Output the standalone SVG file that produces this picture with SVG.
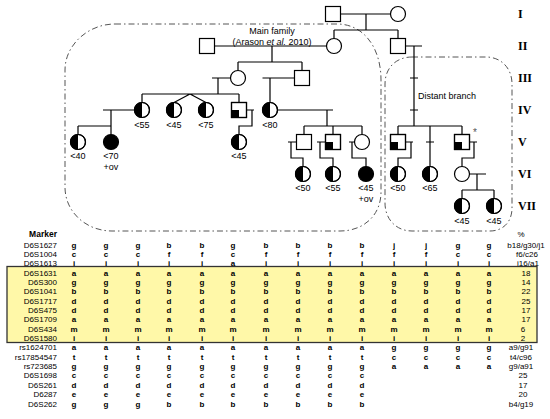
<svg xmlns="http://www.w3.org/2000/svg" width="550" height="419" viewBox="0 0 550 419">
<style>
.ln{stroke:#000;stroke-width:1.2;fill:none}
.sym{stroke:#000;stroke-width:1.2;fill:#fff}
.blk{fill:#000;stroke:none}
.bnd{fill:none;stroke:#555;stroke-width:1;stroke-dasharray:6 3 1.5 3}
.lbl{font-family:"Liberation Sans",Arial,sans-serif;font-size:9px;text-anchor:middle;fill:#000}
.gen{font-family:"Liberation Serif","Times New Roman",serif;font-weight:bold;font-size:12px;fill:#000}
.mk{font-family:"Liberation Sans",Arial,sans-serif;font-size:8px;text-anchor:end;fill:#000}
.d{font-family:"Liberation Sans",Arial,sans-serif;font-size:8px;font-weight:bold;text-anchor:middle;fill:#000}
.pc{font-family:"Liberation Sans",Arial,sans-serif;font-size:8px;text-anchor:middle;fill:#000}
</style>
<rect width="550" height="419" fill="#fff"/>
<!-- boundaries -->
<g id="boundaries">
<path class="bnd" d="M115,24 H337 C364,24 381,48 381,80 V192 C381,215 364,231 340,231 H112 C86,231 65,212 65,187 V70 C65,45 88,24 115,24 Z"/>
<path class="bnd" d="M412,57 H486 C501,57 512,68 512,84 V208 C512,222 503,231 490,231 H412 C396,231 385,219 385,203 V84 C385,68 396,57 412,57 Z"/>
<text class="lbl" x="272" y="34">Main family</text>
<text class="lbl" x="272" y="45">(Arason <tspan font-style="italic">et al.</tspan> 2010)</text>
<text class="lbl" x="418" y="99" style="text-anchor:start">Distant branch</text>
</g>
<!-- connectors -->
<g id="connectors" class="ln">
<path d="M340.5,14 H390.5 M366,14 V30 M334,30 H398 M334,30 V38.5 M398,30 V38.5"/>
<path d="M214.5,46 H326.5 M272,46 V62 M238,62 H302 M238,62 V70.5 M302,62 V70.5"/>
<path d="M405.5,46 H422 M414,46 V126 M410,78 H418 M410,110 H418 M398,126 H462 M398,126 V134.5 M430,126 V166.5 M426,142 H434 M462,126 V134.5"/>
<path d="M212,78 H230.5 M218,78 V94 M142,94 H239 M142,94 V102.5 M190,94 L174,102.5 M190,94 L206,102.5 M239,94 V102.5"/>
<path d="M262.5,78 H294.5 M270,78 V102.5"/>
<path d="M103,110 H134.5 M111,110 V134.5 M78,126 H111 M78,126 V134.5"/>
<path d="M246.5,110 H254 M252,110 V126 H239 V134.5"/>
<path d="M277.5,110 H333 M327,110 V126 M304,126 H362 M304,126 V134.5 M333,126 V134.5 M362,126 V134.5"/>
<path d="M288,142 H296.5 M291,142 V158 H303 V166.5 M317,142 H325.5 M320,142 V158 H333 V166.5 M349,142 H354.5 M352,142 V158 H366 V166.5"/>
<path d="M405.5,142 H413 M411,142 V158 H398 V166.5 M469.5,142 H477 M474,142 V158 H462 V166.5"/>
<path d="M469.5,174 H486 M477,174 V190 M462,190 H494 M462,190 V198.5 M494,190 V198.5"/>
</g>
<!-- Generation I -->
<g id="I-1"><rect class="sym" x="325.5" y="6.5" width="15" height="15"/></g>
<g id="I-2"><circle class="sym" cx="398" cy="14" r="7.5"/></g>
<!-- Generation II -->
<g id="II-1"><rect class="sym" x="199.5" y="38.5" width="15" height="15"/></g>
<g id="II-2"><circle class="sym" cx="334" cy="46" r="7.5"/></g>
<g id="II-3"><rect class="sym" x="390.5" y="38.5" width="15" height="15"/></g>
<!-- Generation III -->
<g id="III-1"><circle class="sym" cx="238" cy="78" r="7.5"/></g>
<g id="III-2"><rect class="sym" x="294.5" y="70.5" width="15" height="15"/></g>
<!-- Generation IV -->
<g id="IV-1"><circle class="sym" cx="142" cy="110" r="7.5"/><path class="blk" d="M142,102.5 A7.5,7.5 0 0 0 142,117.5 Z"/><circle class="ln" cx="142" cy="110" r="7.5"/><text class="lbl" x="142" y="128">&lt;55</text></g>
<g id="IV-2"><circle class="sym" cx="174" cy="110" r="7.5"/><path class="blk" d="M174,102.5 A7.5,7.5 0 0 0 174,117.5 Z"/><circle class="ln" cx="174" cy="110" r="7.5"/><text class="lbl" x="174" y="128">&lt;45</text></g>
<g id="IV-3"><circle class="sym" cx="206" cy="110" r="7.5"/><path class="blk" d="M206,102.5 A7.5,7.5 0 0 0 206,117.5 Z"/><circle class="ln" cx="206" cy="110" r="7.5"/><text class="lbl" x="206" y="128">&lt;75</text></g>
<g id="IV-4"><rect class="sym" x="231.5" y="102.5" width="15" height="15"/><rect class="blk" x="231.5" y="110" width="7.5" height="7.5"/><rect class="ln" x="231.5" y="102.5" width="15" height="15"/></g>
<g id="IV-5"><circle class="sym" cx="270" cy="110" r="7.5"/><path class="blk" d="M270,102.5 A7.5,7.5 0 0 0 270,117.5 Z"/><circle class="ln" cx="270" cy="110" r="7.5"/><text class="lbl" x="270" y="128">&lt;80</text></g>
<!-- Generation V -->
<g id="V-1"><circle class="sym" cx="78" cy="142" r="7.5"/><path class="blk" d="M78,134.5 A7.5,7.5 0 0 0 78,149.5 Z"/><circle class="ln" cx="78" cy="142" r="7.5"/><text class="lbl" x="78" y="159">&lt;40</text></g>
<g id="V-2"><circle class="sym" cx="111" cy="142" r="7.5" style="fill:#000"/><text class="lbl" x="111" y="159">&lt;70</text><text class="lbl" x="111" y="169.5">+ov</text></g>
<g id="V-3"><circle class="sym" cx="239" cy="142" r="7.5"/><path class="blk" d="M239,134.5 A7.5,7.5 0 0 0 239,149.5 Z"/><circle class="ln" cx="239" cy="142" r="7.5"/><text class="lbl" x="239" y="159">&lt;45</text></g>
<g id="V-4"><rect class="sym" x="296.5" y="134.5" width="15" height="15"/></g>
<g id="V-5"><rect class="sym" x="325.5" y="134.5" width="15" height="15"/><rect class="blk" x="325.5" y="142" width="7.5" height="7.5"/><rect class="ln" x="325.5" y="134.5" width="15" height="15"/></g>
<g id="V-6"><circle class="sym" cx="362" cy="142" r="7.5"/></g>
<g id="V-7"><rect class="sym" x="390.5" y="134.5" width="15" height="15"/><rect class="blk" x="390.5" y="142" width="7.5" height="7.5"/><rect class="ln" x="390.5" y="134.5" width="15" height="15"/></g>
<g id="V-8"><rect class="sym" x="454.5" y="134.5" width="15" height="15"/><rect class="blk" x="454.5" y="142" width="7.5" height="7.5"/><rect class="ln" x="454.5" y="134.5" width="15" height="15"/><text x="473" y="136" style="font-family:'Liberation Sans',Arial,sans-serif;font-size:10px;fill:#555">*</text></g>
<!-- Generation VI -->
<g id="VI-1"><circle class="sym" cx="303" cy="174" r="7.5"/><path class="blk" d="M303,166.5 A7.5,7.5 0 0 0 303,181.5 Z"/><circle class="ln" cx="303" cy="174" r="7.5"/><text class="lbl" x="303" y="191">&lt;50</text></g>
<g id="VI-2"><circle class="sym" cx="333" cy="174" r="7.5"/><path class="blk" d="M333,166.5 A7.5,7.5 0 0 0 333,181.5 Z"/><circle class="ln" cx="333" cy="174" r="7.5"/><text class="lbl" x="333" y="191">&lt;55</text></g>
<g id="VI-3"><circle class="sym" cx="366" cy="174" r="7.5" style="fill:#000"/><text class="lbl" x="366" y="191">&lt;45</text><text class="lbl" x="366" y="201.5">+ov</text></g>
<g id="VI-4"><circle class="sym" cx="398" cy="174" r="7.5"/><path class="blk" d="M398,166.5 A7.5,7.5 0 0 0 398,181.5 Z"/><circle class="ln" cx="398" cy="174" r="7.5"/><text class="lbl" x="398" y="191">&lt;50</text></g>
<g id="VI-5"><circle class="sym" cx="430" cy="174" r="7.5"/><path class="blk" d="M430,166.5 A7.5,7.5 0 0 0 430,181.5 Z"/><circle class="ln" cx="430" cy="174" r="7.5"/><text class="lbl" x="430" y="191">&lt;65</text></g>
<g id="VI-6"><circle class="sym" cx="462" cy="174" r="7.5"/></g>
<!-- Generation VII -->
<g id="VII-1"><circle class="sym" cx="462" cy="206" r="7.5"/><path class="blk" d="M462,198.5 A7.5,7.5 0 0 0 462,213.5 Z"/><circle class="ln" cx="462" cy="206" r="7.5"/><text class="lbl" x="462" y="224">&lt;45</text></g>
<g id="VII-2"><circle class="sym" cx="494" cy="206" r="7.5"/><path class="blk" d="M494,198.5 A7.5,7.5 0 0 0 494,213.5 Z"/><circle class="ln" cx="494" cy="206" r="7.5"/><text class="lbl" x="494" y="224">&lt;45</text></g>
<!-- generation numerals -->
<g id="generations">
<text class="gen" x="518" y="18">I</text>
<text class="gen" x="518" y="50">II</text>
<text class="gen" x="518" y="82">III</text>
<text class="gen" x="518" y="114">IV</text>
<text class="gen" x="518" y="146">V</text>
<text class="gen" x="518" y="178">VI</text>
<text class="gen" x="518" y="210">VII</text>
</g>
<!-- table -->
<g id="table">
<rect x="7" y="266.5" width="530" height="76" fill="#FFF8A8" stroke="#333" stroke-width="1.3"/>
<text class="mk" x="57" y="237" font-weight="bold" style="font-size:8.5px">Marker</text>
<text class="pc" x="521" y="237">%</text>
<g id="labels">
<text class="mk" x="57" y="247.5">D6S1627</text>
<text class="mk" x="57" y="256.9">D6S1004</text>
<text class="mk" x="57" y="266.2">D6S1613</text>
<text class="mk" x="57" y="275.6">D6S1631</text>
<text class="mk" x="57" y="284.9">D6S300</text>
<text class="mk" x="57" y="294.3">D6S1041</text>
<text class="mk" x="57" y="303.6">D6S1717</text>
<text class="mk" x="57" y="313">D6S475</text>
<text class="mk" x="57" y="322.3">D6S1709</text>
<text class="mk" x="57" y="331.7">D6S434</text>
<text class="mk" x="57" y="341">D6S1580</text>
<text class="mk" x="57" y="350.4">rs1624701</text>
<text class="mk" x="57" y="359.7">rs17854547</text>
<text class="mk" x="57" y="369.1">rs723685</text>
<text class="mk" x="57" y="378.4">D6S1698</text>
<text class="mk" x="57" y="387.8">D6S261</text>
<text class="mk" x="57" y="397.1">D6287</text>
<text class="mk" x="57" y="406.5">D6S262</text>
</g>
<g id="percent">
<text class="pc" x="526" y="247.5">b18/g30/j1</text>
<text class="pc" x="527" y="256.9">f6/c26</text>
<text class="pc" x="528" y="266.2">i16/a1</text>
<text class="pc" x="526" y="275.6">18</text>
<text class="pc" x="526" y="284.9">14</text>
<text class="pc" x="526" y="294.3">22</text>
<text class="pc" x="526" y="303.6">25</text>
<text class="pc" x="526" y="313">17</text>
<text class="pc" x="526" y="322.3">17</text>
<text class="pc" x="523" y="331.7">6</text>
<text class="pc" x="523" y="341">2</text>
<text class="pc" x="521" y="350.4">a9/g91</text>
<text class="pc" x="521" y="359.7">t4/c96</text>
<text class="pc" x="521" y="369.1">g9/a91</text>
<text class="pc" x="523" y="378.4">25</text>
<text class="pc" x="523" y="387.8">17</text>
<text class="pc" x="523" y="397.1">20</text>
<text class="pc" x="521" y="406.5">b4/g19</text>
</g>
<g id="alleles" class="d">
<text class="d" x="74" y="247.5">g</text><text class="d" x="106" y="247.5">g</text><text class="d" x="138" y="247.5">g</text><text class="d" x="169" y="247.5">b</text><text class="d" x="202" y="247.5">b</text><text class="d" x="233" y="247.5">g</text><text class="d" x="266" y="247.5">b</text><text class="d" x="298" y="247.5">b</text><text class="d" x="330" y="247.5">b</text><text class="d" x="362" y="247.5">b</text><text class="d" x="394" y="247.5">j</text><text class="d" x="426" y="247.5">j</text><text class="d" x="458" y="247.5">g</text><text class="d" x="489" y="247.5">g</text>
<text class="d" x="74" y="256.9">c</text><text class="d" x="106" y="256.9">c</text><text class="d" x="138" y="256.9">c</text><text class="d" x="169" y="256.9">f</text><text class="d" x="202" y="256.9">f</text><text class="d" x="233" y="256.9">c</text><text class="d" x="266" y="256.9">f</text><text class="d" x="298" y="256.9">f</text><text class="d" x="330" y="256.9">f</text><text class="d" x="362" y="256.9">f</text><text class="d" x="394" y="256.9">f</text><text class="d" x="426" y="256.9">f</text><text class="d" x="458" y="256.9">c</text><text class="d" x="489" y="256.9">c</text>
<text class="d" x="74" y="266.2">i</text><text class="d" x="106" y="266.2">i</text><text class="d" x="138" y="266.2">i</text><text class="d" x="169" y="266.2">i</text><text class="d" x="202" y="266.2">i</text><text class="d" x="233" y="266.2">a</text><text class="d" x="266" y="266.2">i</text><text class="d" x="298" y="266.2">i</text><text class="d" x="330" y="266.2">i</text><text class="d" x="362" y="266.2">i</text><text class="d" x="394" y="266.2">i</text><text class="d" x="426" y="266.2">i</text><text class="d" x="458" y="266.2">i</text><text class="d" x="489" y="266.2">i</text>
<text class="d" x="74" y="275.6">a</text><text class="d" x="106" y="275.6">a</text><text class="d" x="138" y="275.6">a</text><text class="d" x="169" y="275.6">a</text><text class="d" x="202" y="275.6">a</text><text class="d" x="233" y="275.6">a</text><text class="d" x="266" y="275.6">a</text><text class="d" x="298" y="275.6">a</text><text class="d" x="330" y="275.6">a</text><text class="d" x="362" y="275.6">a</text><text class="d" x="394" y="275.6">a</text><text class="d" x="426" y="275.6">a</text><text class="d" x="458" y="275.6">a</text><text class="d" x="489" y="275.6">a</text>
<text class="d" x="74" y="284.9">g</text><text class="d" x="106" y="284.9">g</text><text class="d" x="138" y="284.9">g</text><text class="d" x="169" y="284.9">g</text><text class="d" x="202" y="284.9">g</text><text class="d" x="233" y="284.9">g</text><text class="d" x="266" y="284.9">g</text><text class="d" x="298" y="284.9">g</text><text class="d" x="330" y="284.9">g</text><text class="d" x="362" y="284.9">g</text><text class="d" x="394" y="284.9">g</text><text class="d" x="426" y="284.9">g</text><text class="d" x="458" y="284.9">g</text><text class="d" x="489" y="284.9">g</text>
<text class="d" x="74" y="294.3">b</text><text class="d" x="106" y="294.3">b</text><text class="d" x="138" y="294.3">b</text><text class="d" x="169" y="294.3">b</text><text class="d" x="202" y="294.3">b</text><text class="d" x="233" y="294.3">b</text><text class="d" x="266" y="294.3">b</text><text class="d" x="298" y="294.3">b</text><text class="d" x="330" y="294.3">b</text><text class="d" x="362" y="294.3">b</text><text class="d" x="394" y="294.3">b</text><text class="d" x="426" y="294.3">b</text><text class="d" x="458" y="294.3">b</text><text class="d" x="489" y="294.3">b</text>
<text class="d" x="74" y="303.6">d</text><text class="d" x="106" y="303.6">d</text><text class="d" x="138" y="303.6">d</text><text class="d" x="169" y="303.6">d</text><text class="d" x="202" y="303.6">d</text><text class="d" x="233" y="303.6">d</text><text class="d" x="266" y="303.6">d</text><text class="d" x="298" y="303.6">d</text><text class="d" x="330" y="303.6">d</text><text class="d" x="362" y="303.6">d</text><text class="d" x="394" y="303.6">d</text><text class="d" x="426" y="303.6">d</text><text class="d" x="458" y="303.6">d</text><text class="d" x="489" y="303.6">d</text>
<text class="d" x="74" y="313">d</text><text class="d" x="106" y="313">d</text><text class="d" x="138" y="313">d</text><text class="d" x="169" y="313">d</text><text class="d" x="202" y="313">d</text><text class="d" x="233" y="313">d</text><text class="d" x="266" y="313">d</text><text class="d" x="298" y="313">d</text><text class="d" x="330" y="313">d</text><text class="d" x="362" y="313">d</text><text class="d" x="394" y="313">d</text><text class="d" x="426" y="313">d</text><text class="d" x="458" y="313">d</text><text class="d" x="489" y="313">d</text>
<text class="d" x="74" y="322.3">a</text><text class="d" x="106" y="322.3">a</text><text class="d" x="138" y="322.3">a</text><text class="d" x="169" y="322.3">a</text><text class="d" x="202" y="322.3">a</text><text class="d" x="233" y="322.3">a</text><text class="d" x="266" y="322.3">a</text><text class="d" x="298" y="322.3">a</text><text class="d" x="330" y="322.3">a</text><text class="d" x="362" y="322.3">a</text><text class="d" x="394" y="322.3">a</text><text class="d" x="426" y="322.3">a</text><text class="d" x="458" y="322.3">a</text><text class="d" x="489" y="322.3">a</text>
<text class="d" x="74" y="331.7">m</text><text class="d" x="106" y="331.7">m</text><text class="d" x="138" y="331.7">m</text><text class="d" x="169" y="331.7">m</text><text class="d" x="202" y="331.7">m</text><text class="d" x="233" y="331.7">m</text><text class="d" x="266" y="331.7">m</text><text class="d" x="298" y="331.7">m</text><text class="d" x="330" y="331.7">m</text><text class="d" x="362" y="331.7">m</text><text class="d" x="394" y="331.7">m</text><text class="d" x="426" y="331.7">m</text><text class="d" x="458" y="331.7">m</text><text class="d" x="489" y="331.7">m</text>
<text class="d" x="74" y="341">i</text><text class="d" x="106" y="341">i</text><text class="d" x="138" y="341">i</text><text class="d" x="169" y="341">i</text><text class="d" x="202" y="341">i</text><text class="d" x="233" y="341">i</text><text class="d" x="266" y="341">i</text><text class="d" x="298" y="341">i</text><text class="d" x="330" y="341">i</text><text class="d" x="362" y="341">i</text><text class="d" x="394" y="341">i</text><text class="d" x="426" y="341">i</text><text class="d" x="458" y="341">i</text><text class="d" x="489" y="341">i</text>
<text class="d" x="74" y="350.4">a</text><text class="d" x="106" y="350.4">a</text><text class="d" x="138" y="350.4">a</text><text class="d" x="169" y="350.4">a</text><text class="d" x="202" y="350.4">a</text><text class="d" x="233" y="350.4">a</text><text class="d" x="266" y="350.4">a</text><text class="d" x="298" y="350.4">a</text><text class="d" x="330" y="350.4">a</text><text class="d" x="362" y="350.4">a</text><text class="d" x="394" y="350.4">g</text><text class="d" x="426" y="350.4">g</text><text class="d" x="458" y="350.4">g</text><text class="d" x="489" y="350.4">g</text>
<text class="d" x="74" y="359.7">t</text><text class="d" x="106" y="359.7">t</text><text class="d" x="138" y="359.7">t</text><text class="d" x="169" y="359.7">t</text><text class="d" x="202" y="359.7">t</text><text class="d" x="233" y="359.7">t</text><text class="d" x="266" y="359.7">t</text><text class="d" x="298" y="359.7">t</text><text class="d" x="330" y="359.7">t</text><text class="d" x="362" y="359.7">t</text><text class="d" x="394" y="359.7">c</text><text class="d" x="426" y="359.7">c</text><text class="d" x="458" y="359.7">c</text><text class="d" x="489" y="359.7">c</text>
<text class="d" x="74" y="369.1">g</text><text class="d" x="106" y="369.1">g</text><text class="d" x="138" y="369.1">g</text><text class="d" x="169" y="369.1">g</text><text class="d" x="202" y="369.1">g</text><text class="d" x="233" y="369.1">g</text><text class="d" x="266" y="369.1">g</text><text class="d" x="298" y="369.1">g</text><text class="d" x="330" y="369.1">g</text><text class="d" x="362" y="369.1">g</text><text class="d" x="394" y="369.1">a</text><text class="d" x="426" y="369.1">a</text><text class="d" x="458" y="369.1">a</text><text class="d" x="489" y="369.1">a</text>
<text class="d" x="74" y="378.4">c</text><text class="d" x="106" y="378.4">c</text><text class="d" x="138" y="378.4">c</text><text class="d" x="169" y="378.4">c</text><text class="d" x="202" y="378.4">c</text><text class="d" x="233" y="378.4">c</text><text class="d" x="266" y="378.4">c</text><text class="d" x="298" y="378.4">c</text><text class="d" x="330" y="378.4">c</text><text class="d" x="362" y="378.4">c</text>
<text class="d" x="74" y="387.8">d</text><text class="d" x="106" y="387.8">d</text><text class="d" x="138" y="387.8">d</text><text class="d" x="169" y="387.8">d</text><text class="d" x="202" y="387.8">d</text><text class="d" x="233" y="387.8">d</text><text class="d" x="266" y="387.8">d</text><text class="d" x="298" y="387.8">d</text><text class="d" x="330" y="387.8">d</text><text class="d" x="362" y="387.8">d</text>
<text class="d" x="74" y="397.1">e</text><text class="d" x="106" y="397.1">e</text><text class="d" x="138" y="397.1">e</text><text class="d" x="169" y="397.1">e</text><text class="d" x="202" y="397.1">e</text><text class="d" x="233" y="397.1">e</text><text class="d" x="266" y="397.1">e</text><text class="d" x="298" y="397.1">e</text><text class="d" x="330" y="397.1">e</text><text class="d" x="362" y="397.1">e</text>
<text class="d" x="74" y="406.5">g</text><text class="d" x="106" y="406.5">g</text><text class="d" x="138" y="406.5">g</text><text class="d" x="169" y="406.5">b</text><text class="d" x="202" y="406.5">b</text><text class="d" x="233" y="406.5">b</text><text class="d" x="266" y="406.5">b</text><text class="d" x="298" y="406.5">b</text><text class="d" x="330" y="406.5">b</text><text class="d" x="362" y="406.5">b</text>
</g>
</g>
</svg>
